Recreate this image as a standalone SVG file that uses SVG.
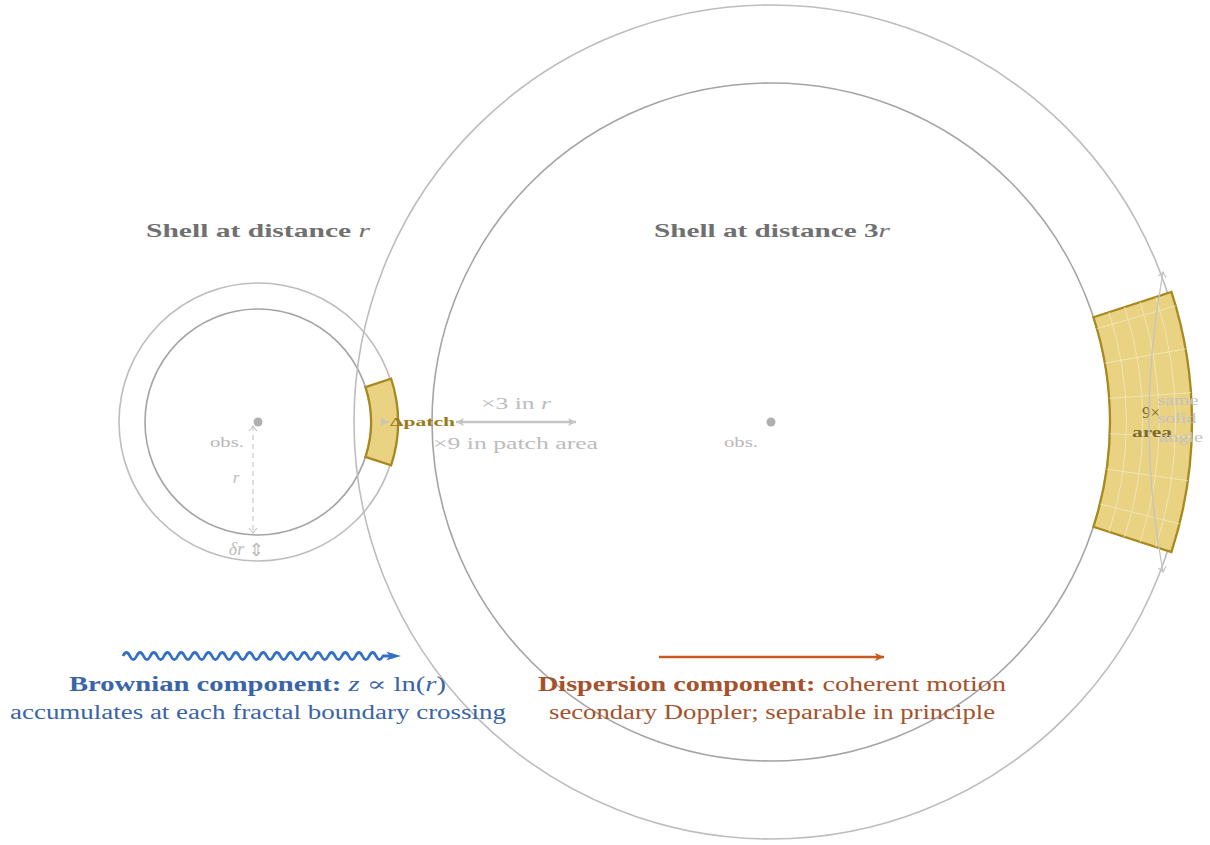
<svg xmlns="http://www.w3.org/2000/svg" width="1210" height="845" viewBox="0 0 1210 845">
  <style>
    .shell-in { fill: none; stroke: #a4a4a4; stroke-width: 1.6; }
    .shell-out { fill: none; stroke: #bdbdbd; stroke-width: 1.6; }
    .patch { fill: #e9d282; stroke: #a8891f; stroke-width: 2.3; stroke-linejoin: miter; }
    .grid { fill: none; stroke: #f4ebc6; stroke-width: 0.9; opacity: 0.85; }
    .obs { fill: #b0b0b0; }
    .serif { font-family: "Liberation Serif", "DejaVu Serif", serif; }
    .title { font-size: 19px; font-weight: bold; fill: #707070; }
    .math { font-style: italic; font-weight: normal; }
    .faint { fill: #bcbcbc; }
    .small { font-size: 14px; fill: #b8b8b8; }
    .blue { fill: #3a64a8; font-size: 20px; }
    .rust { fill: #a5512b; font-size: 20px; }
    .guide { fill: none; stroke: #c4c4c4; }
  </style>
  <defs>
    <marker id="open-tip" viewBox="-6 -5 8 10" refX="0" refY="0" markerWidth="8" markerHeight="10" markerUnits="userSpaceOnUse" orient="auto-start-reverse">
      <path d="M-5,-4 Q-1.5,-1 0,0 Q-1.5,1 -5,4" fill="none" stroke="#c4c4c4" stroke-width="1.1"/>
    </marker>
    <marker id="grey-tip" viewBox="-8 -5 9 10" refX="0" refY="0" markerWidth="9" markerHeight="10" markerUnits="userSpaceOnUse" orient="auto-start-reverse">
      <path d="M-8,-4 L0,0 L-8,4 L-6,0 Z" fill="#c4c4c4"/>
    </marker>
    <marker id="rust-tip" viewBox="-9 -5 10 10" refX="0" refY="0" markerWidth="10" markerHeight="10" markerUnits="userSpaceOnUse" orient="auto">
      <path d="M-9,-4 L0,0 L-9,4 L-7,0 Z" fill="#c8581e"/>
    </marker>
  </defs>

  <!-- shell at distance r -->
  <g id="shell-r">
    <circle class="shell-out" cx="258" cy="422" r="139"/>
    <circle class="shell-in" cx="258" cy="422" r="113"/>
    <circle class="obs" cx="258" cy="422" r="4.5"/>
    <text class="serif small" x="227" y="447" text-anchor="middle" textLength="34" lengthAdjust="spacingAndGlyphs">obs.</text>
    <text class="serif title" x="258" y="237" text-anchor="middle" textLength="224" lengthAdjust="spacingAndGlyphs">Shell at distance <tspan class="math">r</tspan></text>
  </g>

  <!-- shell at distance 3r -->
  <g id="shell-3r">
    <circle class="shell-out" cx="771" cy="422" r="417"/>
    <circle class="shell-in" cx="771" cy="422" r="339"/>
    <circle class="obs" cx="771" cy="422" r="4.5"/>
    <text class="serif small" x="741" y="447" text-anchor="middle" textLength="34" lengthAdjust="spacingAndGlyphs">obs.</text>
    <text class="serif title" x="772" y="237" text-anchor="middle" textLength="236" lengthAdjust="spacingAndGlyphs">Shell at distance 3<tspan class="math">r</tspan></text>
  </g>

  <!-- small patch on the near shell -->
  <g id="patch-near">
    <path class="patch" d="M365.47,387.08 L391.15,378.74 A140,140 0 0 1 391.15,465.26 L365.47,456.92 A113,113 0 0 0 365.47,387.08 Z"/>
    <text class="serif" x="390" y="426" font-size="13" font-weight="bold" fill="#9a7b1c" textLength="65" lengthAdjust="spacingAndGlyphs">Δpatch</text>
  </g>

  <!-- large patch on the far shell, same solid angle -->
  <g id="patch-far">
    <path class="patch" d="M1093.41,317.24 L1171.40,291.90 A421,421 0 0 1 1171.40,552.10 L1093.41,526.76 A339,339 0 0 0 1093.41,317.24 Z"/>
    <g class="grid">
      <path d="M1109.01,312.17 A355.4,355.4 0 0 1 1109.01,531.83"/>
      <path d="M1124.60,307.11 A371.8,371.8 0 0 1 1124.60,536.89"/>
      <path d="M1140.20,302.04 A388.2,388.2 0 0 1 1140.20,541.96"/>
      <path d="M1155.80,296.97 A404.6,404.6 0 0 1 1155.80,547.03"/>
      <path d="M1096.87,328.56 L1175.69,305.96"/>
      <path d="M1104.85,363.13 L1185.60,348.89"/>
      <path d="M1109.17,398.35 L1190.97,392.63"/>
      <path d="M1109.79,433.83 L1191.74,436.69"/>
      <path d="M1106.70,469.18 L1187.90,480.59"/>
      <path d="M1099.93,504.01 L1179.50,523.85"/>
    </g>
    <text class="serif" x="1151" y="418" font-size="16" fill="#7d6a2c" text-anchor="middle" textLength="18" lengthAdjust="spacingAndGlyphs">9×</text>
    <text class="serif" x="1152" y="437" font-size="14" font-weight="bold" fill="#7d6a2c" text-anchor="middle" textLength="40" lengthAdjust="spacingAndGlyphs">area</text>
    <text class="serif" font-size="14" fill="#c2c2c2" text-anchor="middle" lengthAdjust="spacingAndGlyphs">
      <tspan x="1179.5" y="405" textLength="41" lengthAdjust="spacingAndGlyphs">same</tspan>
      <tspan x="1178.5" y="423" textLength="39" lengthAdjust="spacingAndGlyphs">solid</tspan>
      <tspan x="1181" y="442" textLength="44" lengthAdjust="spacingAndGlyphs">angle</tspan>
    </text>
  </g>

  <!-- annotation labels -->
  <g id="labels">
    <text class="serif faint" x="516" y="409" font-size="17" text-anchor="middle" textLength="70" lengthAdjust="spacingAndGlyphs">×3 in <tspan class="math">r</tspan></text>
    <text class="serif faint" x="515.5" y="449" font-size="17" text-anchor="middle" textLength="165" lengthAdjust="spacingAndGlyphs">×9 in patch area</text>
    <text class="serif faint" x="236" y="483" font-size="17" font-style="italic" text-anchor="middle">r</text>
    <text class="serif faint" x="236.5" y="555" font-size="18" font-style="italic" text-anchor="middle">δr</text>
    <text x="256" y="556" font-family="DejaVu Sans, sans-serif" font-size="18" fill="#bcbcbc" text-anchor="middle">⇕</text>
  </g>

  <!-- legend: Brownian component -->
  <g id="legend-brownian">
    <text class="serif blue" x="257.5" y="691" text-anchor="middle" textLength="377" lengthAdjust="spacingAndGlyphs"><tspan font-weight="bold">Brownian component:</tspan> <tspan class="math">z</tspan> ∝ ln(<tspan class="math">r</tspan>)</text>
    <text class="serif blue" x="258" y="719" text-anchor="middle" textLength="496" lengthAdjust="spacingAndGlyphs">accumulates at each fractal boundary crossing</text>
  </g>

  <!-- legend: dispersion component -->
  <g id="legend-dispersion">
    <text class="serif rust" x="772" y="691" text-anchor="middle" textLength="468" lengthAdjust="spacingAndGlyphs"><tspan font-weight="bold">Dispersion component:</tspan> coherent motion</text>
    <text class="serif rust" x="772" y="719" text-anchor="middle" textLength="446" lengthAdjust="spacingAndGlyphs">secondary Doppler; separable in principle</text>
  </g>

  <!-- connectors -->
  <g id="connectors">
    <path class="guide" d="M253,426 L253,533" stroke-width="1.1" stroke-dasharray="5 4" marker-start="url(#open-tip)" marker-end="url(#open-tip)"/>
    <path class="guide" d="M1163,272 Q1135,422 1163,572" stroke-width="1.3" marker-start="url(#open-tip)" marker-end="url(#open-tip)"/>
    <path class="guide" d="M456,422 L576,422" stroke-width="2.6" marker-start="url(#grey-tip)" marker-end="url(#grey-tip)"/>
    <path d="M381,422 L388,422" stroke="#b8b8b8" stroke-width="1.2" marker-end="url(#grey-tip)"/>
    <path d="M123,656 q3.42,-7 6.84,0 t6.84,0 t6.84,0 t6.84,0 t6.84,0 t6.84,0 t6.84,0 t6.84,0 t6.84,0 t6.84,0 t6.84,0 t6.84,0 t6.84,0 t6.84,0 t6.84,0 t6.84,0 t6.84,0 t6.84,0 t6.84,0 t6.84,0 t6.84,0 t6.84,0 t6.84,0 t6.84,0 t6.84,0 t6.84,0 t6.84,0 t6.84,0 t6.84,0 t6.84,0 t6.84,0 t6.84,0 t6.84,0 t6.84,0 t6.84,0 t6.84,0 t6.84,0 t6.84,0 L392,656" fill="none" stroke="#3470c6" stroke-width="2.8" stroke-linejoin="round"/>
    <path d="M386,651.5 L401,656 L386,660.5 L390,656 Z" fill="#3470c6"/>
    <path d="M659,657 L884,657" stroke="#c8581e" stroke-width="2.6" marker-end="url(#rust-tip)"/>
  </g>
</svg>
